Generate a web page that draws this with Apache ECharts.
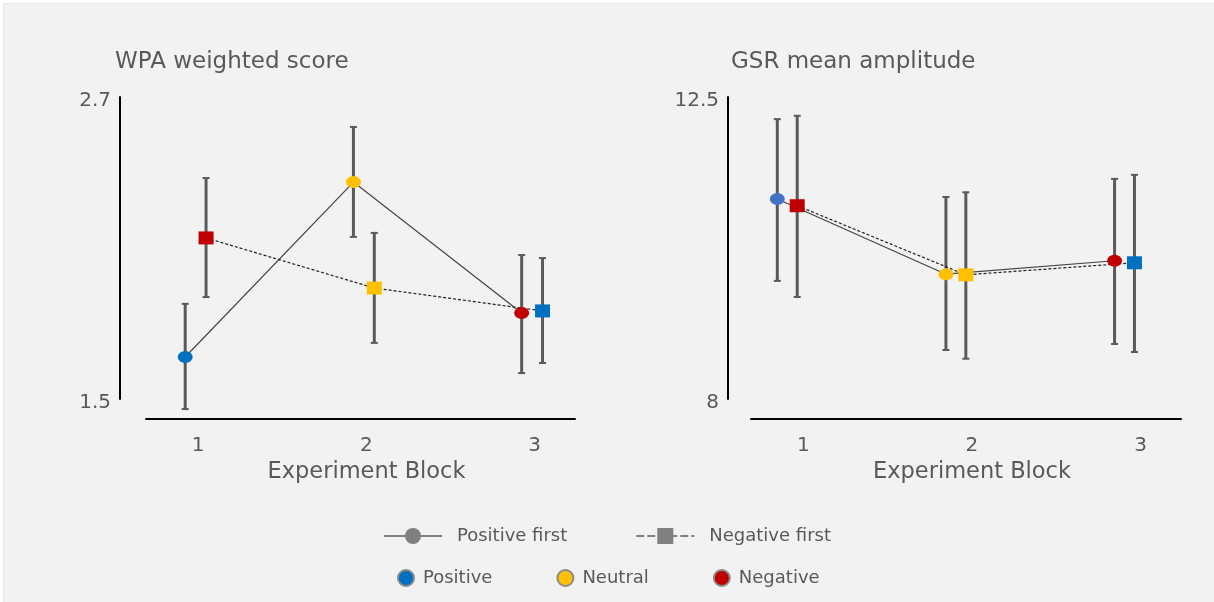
<!DOCTYPE html>
<html>
<head>
<meta charset="utf-8">
<script src="https://cdn.jsdelivr.net/npm/echarts@6/dist/echarts.min.js"></script>
<style>
  html, body { margin: 0; padding: 0; background: #fff; }
  #bg { position: absolute; left: 3px; top: 3px; width: 1211px; height: 599px; background: #f2f2f2; border-left: 1px solid #e6e6e6; border-top: 1px solid #e6e6e6; box-sizing: border-box; }
  #chart { position: absolute; left: 0; top: 0; width: 1214px; height: 602px; }
</style>
</head>
<body>
<div id="bg"></div>
<div id="chart"></div>
<script>
// experiment blocks (x axis)
const blocks = [1, 2, 3];
const blockLabels = ["1", "2", "3"];

// condition order within each group
const posFirstOrder = ["Positive", "Neutral", "Negative"];
const negFirstOrder = ["Negative", "Neutral", "Positive"];

// WPA weighted score
const wpaPosFirst = [1.667, 2.362, 1.842];
const wpaPosFirstLow = [1.46, 2.144, 1.603];
const wpaPosFirstHigh = [1.878, 2.581, 2.072];
const wpaNegFirst = [2.14, 1.941, 1.85];
const wpaNegFirstLow = [1.905, 1.723, 1.643];
const wpaNegFirstHigh = [2.378, 2.16, 2.06];
const wpaTicks = [1.5, 2.7];

// GSR mean amplitude
const gsrPosFirst = [10.98, 9.86, 10.06];
const gsrPosFirstLow = [9.76, 8.73, 8.82];
const gsrPosFirstHigh = [12.17, 11.01, 11.28];
const gsrNegFirst = [10.88, 9.85, 10.03];
const gsrNegFirstLow = [9.52, 8.6, 8.7];
const gsrNegFirstHigh = [12.22, 11.08, 11.34];
const gsrTicks = [8, 12.5];

const condColors = { Positive: "#0070C0", Neutral: "#FFC000", Negative: "#C00000" };
const textColor = "#595959";
const font = "DejaVu Sans";

const myChart = echarts.init(document.getElementById("chart"));

function errorBars(idx, xs, low, high) {
  return {
    type: "custom",
    xAxisIndex: idx,
    yAxisIndex: idx,
    z: 1,
    silent: true,
    data: xs.map((x, i) => [x, low[i], high[i]]),
    renderItem: function (params, api) {
      const top = api.coord([api.value(0), api.value(2)]);
      const bot = api.coord([api.value(0), api.value(1)]);
      const cap = 3.5;
      const style = { stroke: "#5a5a5a", lineWidth: 3 };
      const capStyle = { stroke: "#5a5a5a", lineWidth: 2 };
      return {
        type: "group",
        children: [
          { type: "line", shape: { x1: top[0], y1: top[1], x2: bot[0], y2: bot[1] }, style: style },
          { type: "line", shape: { x1: top[0] - cap, y1: top[1], x2: top[0] + cap, y2: top[1] }, style: capStyle },
          { type: "line", shape: { x1: bot[0] - cap, y1: bot[1], x2: bot[0] + cap, y2: bot[1] }, style: capStyle },
        ],
      };
    },
  };
}

function groupLine(idx, name, xs, ys, order, dashed, symbol, firstColor) {
  return {
    name: name,
    type: "line",
    xAxisIndex: idx,
    yAxisIndex: idx,
    z: 3,
    symbol: symbol,
    symbolSize: symbol === "circle" ? [15, 12] : [15, 13],
    itemStyle: { color: "#808080" },
    lineStyle: dashed
      ? { color: "#222", width: 1.2, type: [3, 2] }
      : { color: "#444", width: 1.2 },
    data: xs.map((x, i) => ({
      value: [x, ys[i]],
      itemStyle: { color: i === 0 && firstColor ? firstColor : condColors[order[i]] },
    })),
  };
}

function xAxis(idx) {
  return {
    type: "value",
    gridIndex: idx,
    min: 0.69,
    max: 3.24,
    offset: 20,
    splitLine: { show: false },
    axisTick: { show: false },
    axisLine: { onZero: false, lineStyle: { color: "#000", width: 2 } },
    axisLabel: {
      customValues: blocks,
      formatter: (v) => blockLabels[blocks.indexOf(v)],
      color: textColor,
      fontSize: 20,
      fontFamily: font,
      margin: 17,
    },
    name: "Experiment Block",
    nameLocation: "middle",
    nameGap: 37,
    nameTextStyle: { color: textColor, fontSize: 22.5, fontFamily: font, padding: [0, 0, 0, 12] },
  };
}

function yAxis(idx, ticks, offset) {
  return {
    type: "value",
    gridIndex: idx,
    min: ticks[0],
    max: ticks[1],
    offset: offset,
    splitLine: { show: false },
    axisTick: { show: false },
    axisLine: { show: true, onZero: false, lineStyle: { color: "#000", width: 2 } },
    axisLabel: {
      customValues: ticks,
      formatter: (v) => "{v|" + v + "}",
      margin: 9,
      rich: {
        v: { color: textColor, fontSize: 20, fontFamily: font, padding: [8, 0, 0, 0] },
      },
    },
  };
}

const off = {
  wpa: [-0.077, 0.047],
  gsr: [-0.154, -0.036],
};

const titleStyle = { color: textColor, fontSize: 23, fontWeight: "normal", fontFamily: font };

const options = {
  animation: false,
  textStyle: { fontFamily: font },
  title: [
    { text: "WPA weighted score", left: 110, top: 46, textStyle: titleStyle },
    { text: "GSR mean amplitude", left: 726, top: 46, textStyle: titleStyle },
  ],
  grid: [
    { left: 146, right: 639, top: 97, bottom: 203 },
    { left: 751, right: 33, top: 97, bottom: 203 },
  ],
  xAxis: [xAxis(0), xAxis(1)],
  yAxis: [yAxis(0, wpaTicks, 26), yAxis(1, gsrTicks, 23)],
  legend: [
    {
      left: 383,
      top: 527,
      padding: 0,
      selectedMode: false,
      itemWidth: 58,
      itemHeight: 20,
      itemGap: 68,
      textStyle: { color: textColor, fontSize: 18, fontFamily: font, padding: [0, 0, 0, 10] },
      data: [
        { name: "Positive first", itemStyle: { color: "#808080" }, lineStyle: { color: "#808080", width: 2, type: "solid" } },
        { name: "Negative first", itemStyle: { color: "#808080" }, lineStyle: { color: "#808080", width: 2, type: [8, 3] } },
      ],
    },
    {
      left: 397,
      top: 569,
      padding: 0,
      selectedMode: false,
      icon: "circle",
      itemWidth: 16,
      itemHeight: 16,
      itemGap: 64,
      textStyle: { color: textColor, fontSize: 18, fontFamily: font, padding: [0, 0, 0, 4] },
      data: ["Positive", "Neutral", "Negative"],
    },
  ],
  series: [
    errorBars(0, blocks.map((b) => b + off.wpa[0]), wpaPosFirstLow, wpaPosFirstHigh),
    errorBars(0, blocks.map((b) => b + off.wpa[1]), wpaNegFirstLow, wpaNegFirstHigh),
    groupLine(0, "Positive first", blocks.map((b) => b + off.wpa[0]), wpaPosFirst, posFirstOrder, false, "circle"),
    groupLine(0, "Negative first", blocks.map((b) => b + off.wpa[1]), wpaNegFirst, negFirstOrder, true, "rect"),
    errorBars(1, blocks.map((b) => b + off.gsr[0]), gsrPosFirstLow, gsrPosFirstHigh),
    errorBars(1, blocks.map((b) => b + off.gsr[1]), gsrNegFirstLow, gsrNegFirstHigh),
    groupLine(1, "Positive first", blocks.map((b) => b + off.gsr[0]), gsrPosFirst, posFirstOrder, false, "circle", "#4472C4"),
    groupLine(1, "Negative first", blocks.map((b) => b + off.gsr[1]), gsrNegFirst, negFirstOrder, true, "rect"),
  ].concat(
    posFirstOrder.map((c) => ({
      name: c,
      type: "scatter",
      data: [],
      itemStyle: { color: condColors[c], opacity: 1, borderColor: "#8a8a8a", borderWidth: 1 },
    }))
  ),
};

myChart.setOption(options);

window.addEventListener("resize", () => {
  myChart.resize();
});
</script>
</body>
</html>
